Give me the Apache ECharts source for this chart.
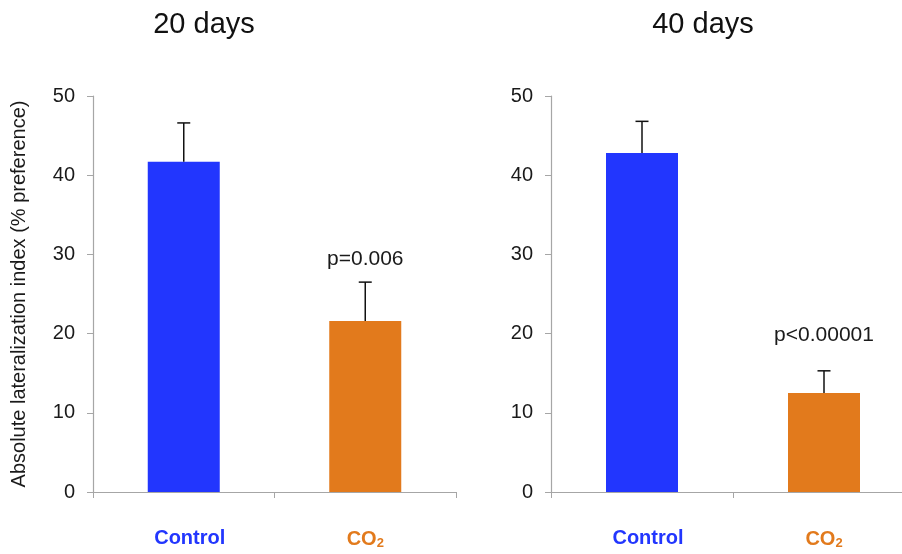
<!DOCTYPE html>
<html>
<head>
<meta charset="utf-8">
<script src="https://cdn.jsdelivr.net/npm/echarts@6/dist/echarts.min.js"></script>
<style>html,body{margin:0;padding:0;background:#fff;}#c{width:902px;height:554px;}</style>
</head>
<body>
<div id="c"></div>
<script>
var categories = ['Control', 'CO2'];
var panelTitles = ['20 days', '40 days'];
var yTicks = [0, 10, 20, 30, 40, 50];
var means20 = [41.7, 21.6];
var errTop20 = [46.6, 26.5];
var pText20 = ['', 'p=0.006'];
var means40 = [42.8, 12.5];
var errTop40 = [46.8, 15.3];
var pText40 = ['', 'p<0.00001'];
var yName = 'Absolute lateralization index (% preference)';

var BLUE = '#2236fe', ORANGE = '#e27a1c';
var barColors = [BLUE, ORANGE];
var FONT = '"Liberation Sans", Arial, Helvetica, sans-serif';

var chart = echarts.init(document.getElementById('c'), null, {renderer: 'canvas'});

function xAxisCfg(gi) {
  return {
    type: 'category', gridIndex: gi, data: categories,
    axisLine: {lineStyle: {color: '#a6a6a6', width: 1.2}},
    axisTick: {show: true, length: 6, lineStyle: {color: '#a6a6a6'}},
    axisLabel: {
      margin: 36,
      formatter: function (v) { return v === 'CO2' ? '{o|CO}{s|2}' : '{b|' + v + '}'; },
      rich: {
        b: {color: BLUE, fontSize: 20, fontWeight: 'bold', fontFamily: FONT, padding: [0, 0, 0, 12]},
        o: {color: ORANGE, fontSize: 20, fontWeight: 'bold', fontFamily: FONT},
        s: {color: ORANGE, fontSize: 13, fontWeight: 'bold', fontFamily: FONT, verticalAlign: 'bottom', padding: [9, 0, 0, 0]}
      }
    }
  };
}
function yAxisCfg(gi, withName) {
  var c = {
    type: 'value', gridIndex: gi, min: yTicks[0], max: yTicks[yTicks.length - 1], interval: 10,
    splitLine: {show: false},
    axisLine: {show: true, lineStyle: {color: '#a6a6a6', width: 1.2}},
    axisTick: {show: true, length: 6, lineStyle: {color: '#a6a6a6'}},
    axisLabel: {color: '#1a1a1a', fontSize: 20, fontFamily: FONT, margin: 18}
  };
  if (withName) {
    c.name = yName; c.nameLocation = 'middle'; c.nameGap = 64;
    c.nameTextStyle = {color: '#1a1a1a', fontSize: 20, fontFamily: FONT};
  }
  return c;
}
function barSeries(gi, vals) {
  return {
    type: 'bar', xAxisIndex: gi, yAxisIndex: gi, barWidth: 72,
    data: vals.map(function (v, i) { return {value: v, itemStyle: {color: barColors[i]}}; }),
    silent: true
  };
}
function errSeries(gi, means, tops, ptexts, pOffset) {
  return {
    type: 'custom', xAxisIndex: gi, yAxisIndex: gi,
    data: means.map(function (m, i) { return [i, m, tops[i]]; }),
    renderItem: function (params, api) {
      var i = api.value(0);
      var base = api.coord([i, api.value(1)]);
      var top = api.coord([i, api.value(2)]);
      var children = [
        {type: 'line', shape: {x1: base[0], y1: base[1], x2: top[0], y2: top[1]}, style: {stroke: '#111', lineWidth: 1.5}},
        {type: 'line', shape: {x1: top[0] - 6.5, y1: top[1], x2: top[0] + 6.5, y2: top[1]}, style: {stroke: '#111', lineWidth: 1.5}}
      ];
      var t = ptexts[params.dataIndex];
      if (t) {
        children.push({type: 'text', x: top[0], y: top[1] - pOffset,
          style: {text: t, fill: '#1a1a1a', fontSize: 21, fontFamily: FONT, align: 'center', verticalAlign: 'middle'}});
      }
      return {type: 'group', children: children};
    },
    z: 5, silent: true
  };
}

chart.setOption({
  animation: false,
  backgroundColor: '#fff',
  title: [
    {text: panelTitles[0], left: 199, top: 5, textAlign: 'center', textStyle: {fontSize: 29, fontWeight: 'normal', color: '#111', fontFamily: FONT}},
    {text: panelTitles[1], left: 698, top: 5, textAlign: 'center', textStyle: {fontSize: 29, fontWeight: 'normal', color: '#111', fontFamily: FONT}}
  ],
  grid: [
    {left: 93, top: 96, width: 363, height: 396, containLabel: false, outerBoundsMode: 'none'},
    {left: 551, top: 96, width: 364, height: 396, containLabel: false, outerBoundsMode: 'none'}
  ],
  xAxis: [xAxisCfg(0), xAxisCfg(1)],
  yAxis: [yAxisCfg(0, true), yAxisCfg(1, false)],
  series: [
    barSeries(0, means20), barSeries(1, means40),
    errSeries(0, means20, errTop20, pText20, 23),
    errSeries(1, means40, errTop40, pText40, 36)
  ]
});
</script>
</body>
</html>
